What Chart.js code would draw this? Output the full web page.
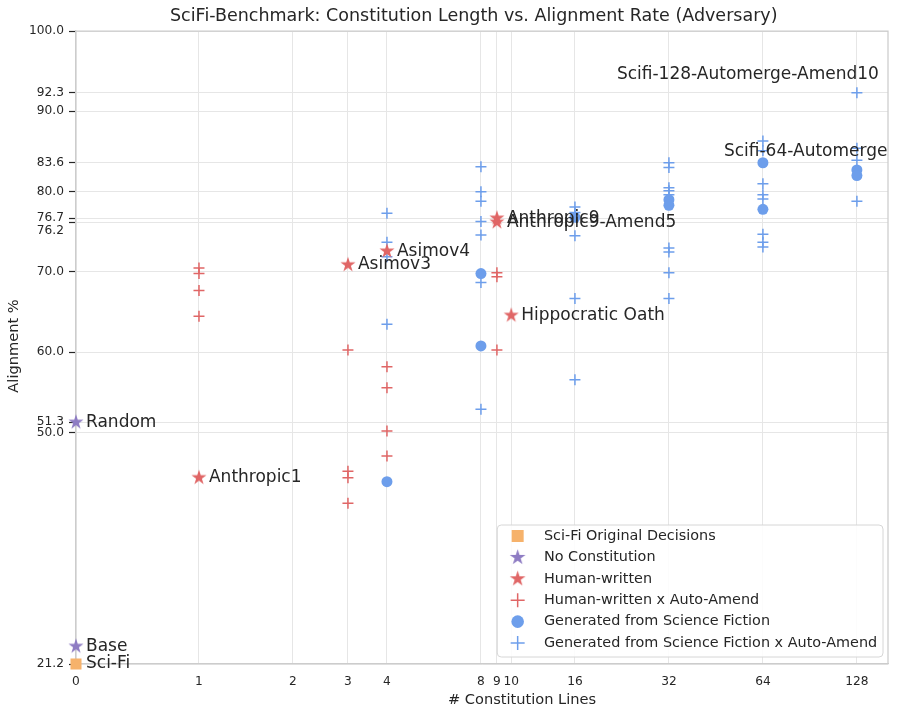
<!DOCTYPE html>
<html><head><meta charset="utf-8">
<script src="https://cdn.jsdelivr.net/npm/chart.js@4.4.1/dist/chart.umd.min.js"></script>
<style>html,body{margin:0;padding:0;background:#fff;}#wrap{width:900px;height:714px;}</style>
</head><body><div id="wrap"><canvas id="c" width="900" height="714"></canvas></div>
<script>
// ---------------- data ----------------
const xTicks = [0, 1, 2, 3, 4, 8, 9, 10, 16, 32, 64, 128];
const yTicks = [21.2, 50.0, 51.3, 60.0, 70.0, 76.2, 76.7, 80.0, 83.6, 90.0, 92.3, 100.0];

const seriesLabels = ['Sci-Fi Original Decisions', 'No Constitution', 'Human-written',
  'Human-written x Auto-Amend', 'Generated from Science Fiction', 'Generated from Science Fiction x Auto-Amend'];

const scifiX = [0];
const scifiY = [21.2];
const scifiNames = ['Sci-Fi'];

const noConstX = [0, 0];
const noConstY = [51.3, 23.4];
const noConstNames = ['Random', 'Base'];

const humanX = [1, 3, 4, 9, 9, 10];
const humanY = [44.4, 70.9, 72.6, 76.7, 76.2, 64.6];
const humanNames = ['Anthropic1', 'Asimov3', 'Asimov4', 'Anthropic9', 'Anthropic9-Amend5', 'Hippocratic Oath'];

const humanAAX = [1, 1, 1, 1, 3, 3, 3, 3, 4, 4, 4, 4, 9, 9, 9];
const humanAAY = [70.5, 69.8, 67.7, 64.5, 60.3, 45.2, 44.4, 41.2, 58.2, 55.6, 50.2, 47.1, 69.9, 69.4, 60.3];

const genX = [4, 8, 8, 16, 32, 32, 64, 64, 128, 128];
const genY = [43.9, 69.8, 60.8, 76.8, 79.0, 78.3, 83.6, 77.8, 82.7, 82.0];
const genNames = ['', '', '', '', '', '', 'Scifi-64-Automerge', '', '', ''];

const genAAX = [4, 4, 4, 4,
  8, 8, 8, 8, 8, 8, 8,
  16, 16, 16, 16, 16,
  32, 32, 32, 32, 32, 32, 32, 32, 32,
  64, 64, 64, 64, 64, 64, 64, 64,
  128, 128, 128, 128];
const genAAY = [77.3, 73.7, 71.9, 63.5,
  83.1, 80.0, 78.8, 76.3, 74.6, 68.7, 52.9,
  78.1, 77.4, 74.5, 66.7, 56.6,
  83.6, 83.0, 80.5, 80.1, 79.6, 73.0, 72.5, 69.9, 66.7,
  86.3, 85.1, 81.0, 79.6, 79.1, 74.7, 73.7, 73.1,
  92.3, 85.4, 83.9, 78.8];
const genAANames = ['', '', '', '', '', '', '', '', '', '', '', '', '', '', '', '', '',
  '', '', '', '', '', '', '', '', '', '', '', '', '', '', '', '',
  'Scifi-128-Automerge-Amend10', '', '', ''];

// ---------------- styles ----------------
const ORANGE = '#f6b26b', PURPLE = '#8e7cc3', RED = '#e06666', BLUE = '#6d9eeb';
const TEXT = '#262626';
const FONT = '"DejaVu Sans", "Liberation Sans", sans-serif';
const labelOffsets = { 'Scifi-128-Automerge-Amend10': [-240, -18], 'Scifi-64-Automerge': [-39, -11] };

function pts(xs, ys) { return xs.map((x, i) => ({ x: x, y: ys[i] })); }

function makeStar(color, R) {
  const s = Math.ceil(2 * R + 2);
  const c = document.createElement('canvas');
  c.width = s; c.height = s;
  const g = c.getContext('2d');
  const cx = s / 2, cy = s / 2, r = R * 0.382;
  g.beginPath();
  for (let k = 0; k < 10; k++) {
    const ang = -Math.PI / 2 + k * Math.PI / 5;
    const rr = k % 2 === 0 ? R : r;
    g.lineTo(cx + rr * Math.cos(ang), cy + rr * Math.sin(ang));
  }
  g.closePath(); g.fillStyle = color; g.fill();
  return c;
}
const starPurple = makeStar(PURPLE, 7.9), starRed = makeStar(RED, 7.9);
const starPurpleL = makeStar(PURPLE, 8.3), starRedL = makeStar(RED, 8.3);

// --------- symmetric log (base 2) scale: linear in [0,1], log2 above ---------
const LINSPAN = 123 / 94;
function fwd(v) { return v <= 1 ? v * LINSPAN : LINSPAN + Math.log2(v); }
function inv(t) { return t <= LINSPAN ? t / LINSPAN : Math.pow(2, t - LINSPAN); }
class SymLog2Scale extends Chart.LinearScale {
  getPixelForValue(value) {
    const a = fwd(this.min), b = fwd(this.max);
    return this.getPixelForDecimal((fwd(value) - a) / (b - a));
  }
  getValueForPixel(pixel) {
    const a = fwd(this.min), b = fwd(this.max);
    return inv(a + this.getDecimalForPixel(pixel) * (b - a));
  }
}
SymLog2Scale.id = 'symlog2';
SymLog2Scale.defaults = Chart.LinearScale.defaults;
Chart.register(SymLog2Scale);

Chart.defaults.font.family = FONT;

const overlay = {
  id: 'overlay',
  beforeDatasetsDraw(chart) {
    const { ctx, chartArea: a } = chart;
    ctx.save();
    ctx.strokeStyle = '#cccccc'; ctx.lineWidth = 1.25;
    ctx.beginPath(); ctx.moveTo(a.left, a.top); ctx.lineTo(a.right, a.top); ctx.lineTo(a.right, a.bottom); ctx.stroke();
    ctx.restore();
  },
  afterDatasetsDraw(chart) {
    const ctx = chart.ctx;
    ctx.save();
    ctx.font = '17px ' + FONT; ctx.fillStyle = TEXT; ctx.textBaseline = 'middle'; ctx.textAlign = 'left';
    chart.data.datasets.forEach((ds, i) => {
      if (!ds.names) return;
      const meta = chart.getDatasetMeta(i);
      meta.data.forEach((el, j) => {
        const n = ds.names[j];
        if (!n) return;
        const off = labelOffsets[n] || [10, 0];
        ctx.fillText(n, el.x + off[0], el.y + off[1]);
      });
    });
    ctx.restore();
  },
  afterDraw(chart) {
    const { ctx, chartArea: a, scales } = chart;
    ctx.save();
    ctx.fillStyle = TEXT;
    // title
    ctx.font = '17.5px ' + FONT; ctx.textBaseline = 'middle'; ctx.textAlign = 'left';
    ctx.fillText('SciFi-Benchmark: Constitution Length vs. Alignment Rate (Adversary)', 170, 16);
    // axis titles
    ctx.font = '14.6px ' + FONT; ctx.textAlign = 'center';
    ctx.fillText('# Constitution Lines', 522, 700);
    ctx.save(); ctx.translate(14, 346); ctx.rotate(-Math.PI / 2); ctx.fillText('Alignment %', 0, 0); ctx.restore();
    // shifted y tick label (overlapping neighbour)
    ctx.font = '12.2px ' + FONT; ctx.textAlign = 'right';
    ctx.fillText((76.2).toFixed(1), a.left - 12, scales.y.getPixelForValue(76.2) + 9);
    // legend
    ctx.font = '14.4px ' + FONT; ctx.textAlign = 'left';
    let W = 0;
    seriesLabels.forEach(t => { W = Math.max(W, ctx.measureText(t).width); });
    const boxW = 5.8 + 29.2 + 11.7 + W + 5.8, boxH = 132, rowH = 21.4;
    const bx = a.right - 5 - boxW, by = a.bottom - 7 - boxH;
    ctx.beginPath();
    if (ctx.roundRect) ctx.roundRect(bx, by, boxW, boxH, 4); else ctx.rect(bx, by, boxW, boxH);
    ctx.fillStyle = 'rgba(255,255,255,0.85)'; ctx.fill();
    ctx.strokeStyle = '#d6d6d6'; ctx.lineWidth = 1; ctx.stroke();
    seriesLabels.forEach((t, i) => {
      const cy = by + 11 + i * rowH, mx = bx + 5.8 + 14.6;
      ctx.fillStyle = TEXT; ctx.fillText(t, bx + 5.8 + 29.2 + 11.7, cy);
      if (i === 0) { ctx.fillStyle = ORANGE; ctx.fillRect(mx - 6, cy - 6, 12, 12); }
      else if (i === 1) ctx.drawImage(starPurpleL, mx - starPurpleL.width / 2, cy - starPurpleL.height / 2);
      else if (i === 2) ctx.drawImage(starRedL, mx - starRedL.width / 2, cy - starRedL.height / 2);
      else if (i === 4) { ctx.fillStyle = BLUE; ctx.beginPath(); ctx.arc(mx, cy, 6.3, 0, Math.PI * 2); ctx.fill(); }
      else {
        ctx.strokeStyle = i === 3 ? RED : BLUE; ctx.lineWidth = 1.5;
        ctx.beginPath(); ctx.moveTo(mx - 7, cy); ctx.lineTo(mx + 7, cy); ctx.moveTo(mx, cy - 7); ctx.lineTo(mx, cy + 7); ctx.stroke();
      }
    });
    ctx.restore();
  }
};

const tickFont = { family: FONT, size: 12.2 };

new Chart(document.getElementById('c'), {
  type: 'scatter',
  data: {
    datasets: [
      { label: seriesLabels[0], data: pts(scifiX, scifiY), names: scifiNames, pointStyle: 'rect', pointRadius: 7.8, backgroundColor: ORANGE, borderWidth: 0, clip: false },
      { label: seriesLabels[1], data: pts(noConstX, noConstY), names: noConstNames, pointStyle: starPurple, pointRadius: 8, clip: false },
      { label: seriesLabels[2], data: pts(humanX, humanY), names: humanNames, pointStyle: starRed, pointRadius: 8, clip: false },
      { label: seriesLabels[3], data: pts(humanAAX, humanAAY), pointStyle: 'cross', pointRadius: 5.5, borderColor: RED, backgroundColor: RED, borderWidth: 1.5, clip: false },
      { label: seriesLabels[4], data: pts(genX, genY), names: genNames, pointStyle: 'circle', pointRadius: 5.5, backgroundColor: BLUE, borderWidth: 0, clip: false },
      { label: seriesLabels[5], data: pts(genAAX, genAAY), names: genAANames, pointStyle: 'cross', pointRadius: 5.5, borderColor: BLUE, backgroundColor: BLUE, borderWidth: 1.5, clip: false }
    ]
  },
  options: {
    responsive: false,
    animation: false,
    layout: { padding: { top: 31, right: 12, left: 0, bottom: 0 } },
    plugins: { legend: { display: false }, title: { display: false }, tooltip: { enabled: false } },
    scales: {
      x: {
        type: 'symlog2', min: 0, max: 161,
        afterBuildTicks: s => { s.ticks = xTicks.map(v => ({ value: v })); },
        afterFit: s => { s.height = 50; },
        grid: { color: '#e6e6e6', lineWidth: 1, drawTicks: false },
        border: { color: '#cccccc', width: 1.25 },
        ticks: { autoSkip: false, maxRotation: 0, padding: 10.5, color: TEXT, font: tickFont, callback: v => String(v) }
      },
      y: {
        type: 'linear', min: 21.2, max: 100,
        afterBuildTicks: s => { s.ticks = yTicks.map(v => ({ value: v })); },
        afterFit: s => { s.width = 76; },
        grid: { color: '#e6e6e6', lineWidth: 1, tickColor: TEXT, tickLength: 7, tickWidth: 1.2 },
        border: { color: '#cccccc', width: 1.25 },
        ticks: {
          autoSkip: false, padding: 5, font: tickFont,
          color: c => (c.tick && c.tick.value === 76.2) ? 'rgba(0,0,0,0)' : TEXT,
          callback: v => Number(v).toFixed(1)
        }
      }
    }
  },
  plugins: [overlay]
});
</script>
</body></html>
